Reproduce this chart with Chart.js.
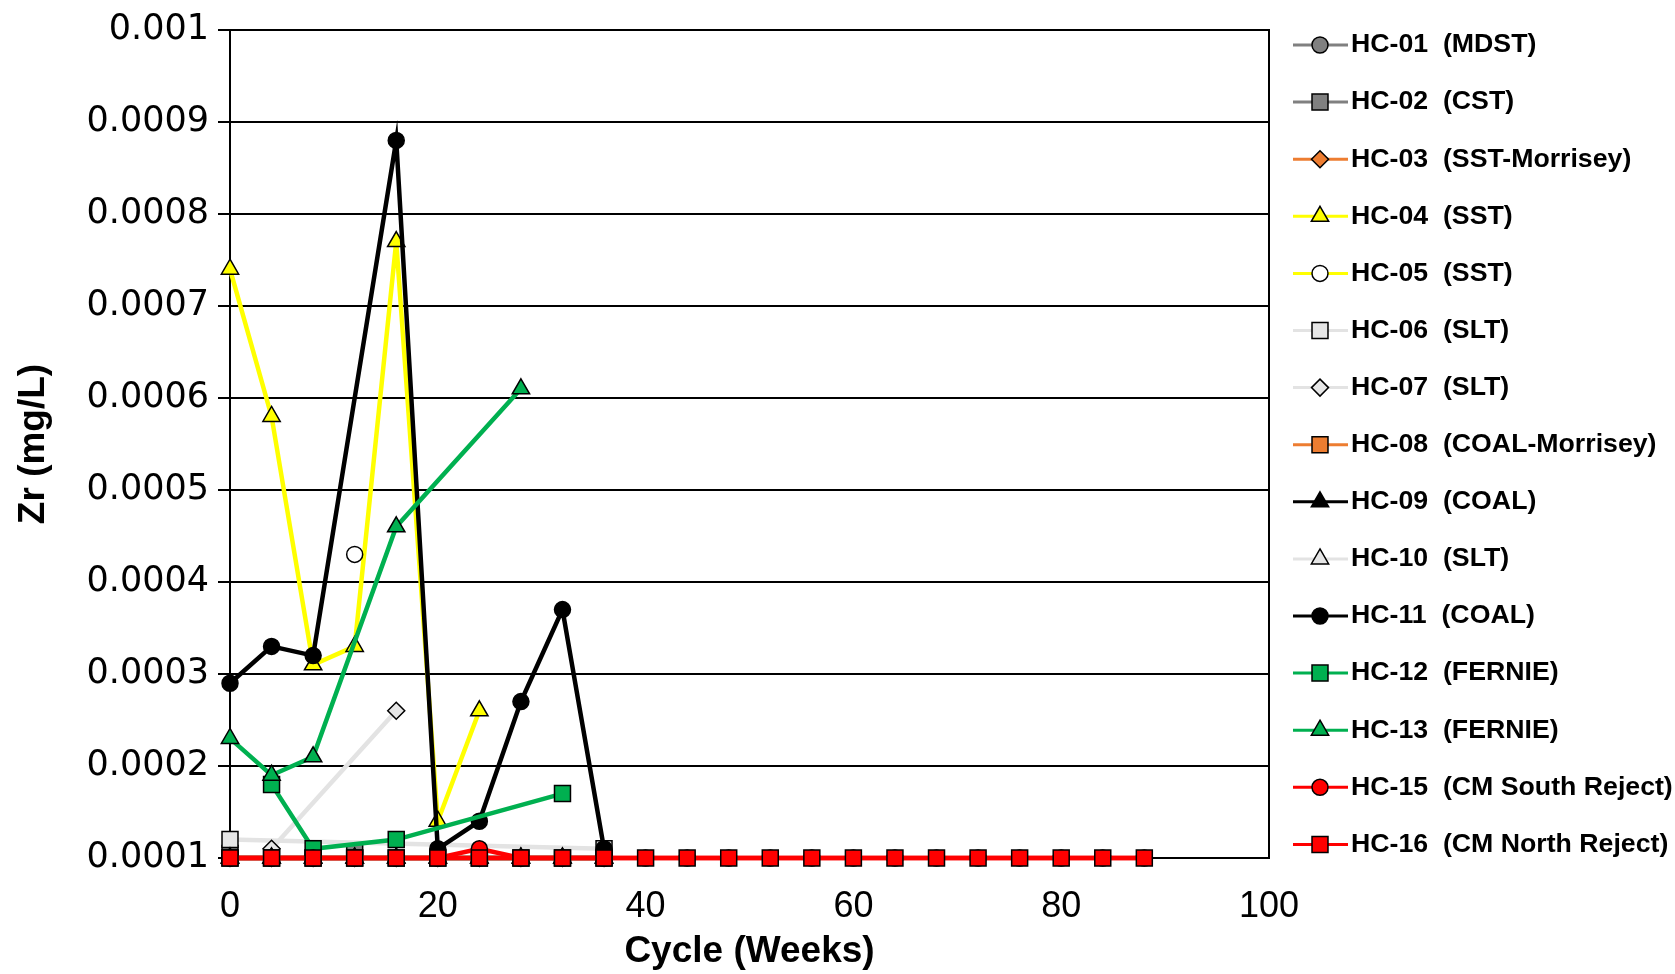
<!DOCTYPE html>
<html>
<head>
<meta charset="utf-8">
<title>Zr (mg/L) by cycle</title>
<script src="https://cdn.jsdelivr.net/npm/chart.js@4.4.1/dist/chart.umd.min.js"></script>
<style>
  html, body { margin: 0; padding: 0; background: #fff; }
  #wrap { width: 1675px; height: 974px; }
</style>
</head>
<body>
<div id="wrap"><canvas id="zr-chart" width="1675" height="974"></canvas></div>
<script>
// Zr leach results, weeks 0..88 (4-week cycles)
const weeks = [0, 4, 8, 12, 16, 20, 24, 28, 32, 36, 40, 44, 48, 52, 56, 60, 64, 68, 72, 76, 80, 84, 88];

const labels = [
  'HC-01  (MDST)', 'HC-02  (CST)', 'HC-03  (SST-Morrisey)', 'HC-04  (SST)', 'HC-05  (SST)',
  'HC-06  (SLT)', 'HC-07  (SLT)', 'HC-08  (COAL-Morrisey)', 'HC-09  (COAL)', 'HC-10  (SLT)',
  'HC-11  (COAL)', 'HC-12  (FERNIE)', 'HC-13  (FERNIE)', 'HC-15  (CM South Reject)', 'HC-16  (CM North Reject)'
];

const hc01 = [0.0001, 0.0001, 0.0001, 0.0001, 0.0001, 0.0001, 0.0001, 0.0001, 0.0001, 0.0001];
const hc02 = [0.000105, null, null, 0.000108];
const hc03 = [0.0001, 0.0001, 0.0001, 0.0001, 0.0001, 0.0001, 0.0001, 0.0001, 0.0001, 0.0001];
const hc04 = [0.00074, 0.00058, 0.00031, 0.00033, 0.00077, 0.00014, 0.00026];
const hc05 = [null, null, null, 0.00043];
const hc06 = [0.00012, null, null, null, null, null, null, null, null, 0.00011];
const hc07 = [null, 0.00011, null, null, 0.00026];
const hc08 = [0.0001, 0.0001, 0.0001, 0.0001, 0.0001, 0.0001, 0.0001, 0.0001, 0.0001, 0.0001];
const hc09 = [0.0001, 0.0001, 0.0001, 0.0001, 0.0001, 0.0001, 0.0001, 0.0001, 0.0001, 0.0001];
const hc10 = [0.0001, 0.0001, 0.0001, 0.0001, 0.0001, 0.0001, 0.0001, 0.0001, 0.0001, 0.0001];
const hc11 = [0.00029, 0.00033, 0.00032, null, 0.00088, 0.00011, 0.00014, 0.00027, 0.00037, 0.00011];
const hc12 = [null, 0.00018, 0.00011, null, 0.00012, null, null, null, 0.00017];
const hc13 = [0.00023, 0.00019, 0.00021, null, 0.00046, null, null, 0.00061];
const hc15 = [0.0001, 0.0001, 0.0001, 0.0001, 0.0001, 0.0001, 0.00011, 0.0001, 0.0001, 0.0001,
              0.0001, 0.0001, 0.0001, 0.0001, 0.0001, 0.0001, 0.0001, 0.0001, 0.0001, 0.0001,
              0.0001, 0.0001, 0.0001];
const hc16 = [0.0001, 0.0001, 0.0001, 0.0001, 0.0001, 0.0001, 0.0001, 0.0001, 0.0001, 0.0001,
              0.0001, 0.0001, 0.0001, 0.0001, 0.0001, 0.0001, 0.0001, 0.0001, 0.0001, 0.0001,
              0.0001, 0.0001, 0.0001];

const yTickValues = [0.0001, 0.0002, 0.0003, 0.0004, 0.0005, 0.0006, 0.0007, 0.0008, 0.0009, 0.001];
const yTickLabels = ['0.0001', '0.0002', '0.0003', '0.0004', '0.0005', '0.0006', '0.0007', '0.0008', '0.0009', '0.001'];
const xTickValues = [0, 20, 40, 60, 80, 100];

const seriesValues = [hc01, hc02, hc03, hc04, hc05, hc06, hc07, hc08, hc09, hc10, hc11, hc12, hc13, hc15, hc16];

// line colour, marker fill, marker shape, marker radius, join gaps
const GRAY = '#808080', ORANGE = '#ED7D31', YELLOW = '#FFFF00', LIGHT = '#E3E3E3',
      BLACK = '#000000', GREEN = '#00B050', RED = '#FF0000';
const styles = [
  [GRAY,   GRAY,      'circle',   8,    true],
  [GRAY,   GRAY,      'rect',     11.3, false],
  [ORANGE, ORANGE,    'rectRot',  8.5,  true],
  [YELLOW, YELLOW,    'triangle', 10,   true],
  [YELLOW, '#FFFFFF', 'circle',   8,    true],
  [LIGHT,  '#E6E6E6', 'rect',     11.3, true],
  [LIGHT,  '#E6E6E6', 'rectRot',  8.5,  true],
  [ORANGE, ORANGE,    'rect',     11.3, true],
  [BLACK,  BLACK,     'triangle', 10,   true],
  [LIGHT,  '#E6E6E6', 'triangle', 10,   true],
  [BLACK,  BLACK,     'circle',   8,    true],
  [GREEN,  GREEN,     'rect',     11.3, true],
  [GREEN,  GREEN,     'triangle', 10,   true],
  [RED,    RED,       'circle',   8,    true],
  [RED,    RED,       'rect',     11.3, true]
];

const datasets = seriesValues.map((vals, i) => {
  const [line, fill, shape, radius, join] = styles[i];
  return {
    label: labels[i],
    data: vals.map((v, k) => ({ x: weeks[k], y: v })),
    borderColor: line,
    borderWidth: 4.5,
    pointBackgroundColor: fill,
    pointBorderColor: '#000',
    pointBorderWidth: 1.5,
    pointStyle: shape,
    pointRadius: radius,
    pointHoverRadius: radius,
    spanGaps: join,
    tension: 0,
    clip: false,
    order: seriesValues.length - i // later series drawn on top, as in the original
  };
});

// Legend drawn to the right: line + marker + label for each series
const sideLegend = {
  id: 'sideLegend',
  afterDraw(chart) {
    const ctx = chart.ctx;
    const top = 45, step = 57.1;
    ctx.save();
    chart.data.datasets.forEach((ds, i) => {
      const y = top + i * step;
      ctx.strokeStyle = ds.borderColor;
      ctx.lineWidth = 3;
      ctx.beginPath();
      ctx.moveTo(1293, y);
      ctx.lineTo(1348, y);
      ctx.stroke();

      ctx.fillStyle = ds.pointBackgroundColor;
      ctx.strokeStyle = '#000';
      ctx.lineWidth = 1.5;
      Chart.helpers.drawPoint(ctx, {
        pointStyle: ds.pointStyle, radius: ds.pointRadius, rotation: 0, borderWidth: 1.5
      }, 1320, y);

      ctx.fillStyle = '#000';
      ctx.font = 'bold 26.7px "Liberation Sans", Arial, sans-serif';
      ctx.textAlign = 'left';
      ctx.textBaseline = 'middle';
      ctx.fillText(ds.label, 1351, y);
    });
    ctx.restore();
  }
};

new Chart(document.getElementById('zr-chart'), {
  type: 'line',
  data: { datasets },
  options: {
    responsive: false,
    animation: false,
    devicePixelRatio: 1,
    layout: { padding: { top: 27, right: 406, bottom: 0, left: 0 } },
    plugins: {
      legend: { display: false },
      tooltip: { enabled: false }
    },
    scales: {
      x: {
        type: 'linear',
        min: 0,
        max: 100,
        afterBuildTicks: (scale) => { scale.ticks = xTickValues.map(v => ({ value: v })); },
        afterFit: (scale) => { scale.height = 116; },
        grid: { display: false },
        border: { color: '#000', width: 2 },
        ticks: {
          color: '#000',
          padding: 19,
          font: { family: '"Liberation Sans", Arial, sans-serif', size: 36 }
        },
        title: {
          display: true,
          text: 'Cycle (Weeks)',
          color: '#000',
          padding: { top: 0, bottom: 0 },
          font: { family: '"Liberation Sans", Arial, sans-serif', size: 37, weight: 'bold' }
        }
      },
      y: {
        type: 'linear',
        min: 0.0001,
        max: 0.001,
        afterBuildTicks: (scale) => { scale.ticks = yTickValues.map(v => ({ value: v })); },
        afterFit: (scale) => { scale.width = 230; },
        grid: { color: '#000', lineWidth: 2, tickLength: 12, drawTicks: true },
        border: { color: '#000', width: 2 },
        ticks: {
          color: '#000',
          padding: 9,
          font: { family: '"DejaVu Sans", sans-serif', size: 35 },
          callback: (value, index) => yTickLabels[index]
        },
        title: {
          display: true,
          text: 'Zr (mg/L)',
          color: '#000',
          padding: { top: 12, bottom: 0 },
          font: { family: '"Liberation Sans", Arial, sans-serif', size: 37, weight: 'bold' }
        }
      },
      y2: {
        type: 'linear',
        position: 'right',
        min: 0,
        max: 1,
        afterFit: (scale) => { scale.width = 0; },
        grid: { display: false },
        ticks: { display: false },
        border: { color: '#000', width: 2 }
      }
    }
  },
  plugins: [sideLegend]
});
</script>
</body>
</html>
